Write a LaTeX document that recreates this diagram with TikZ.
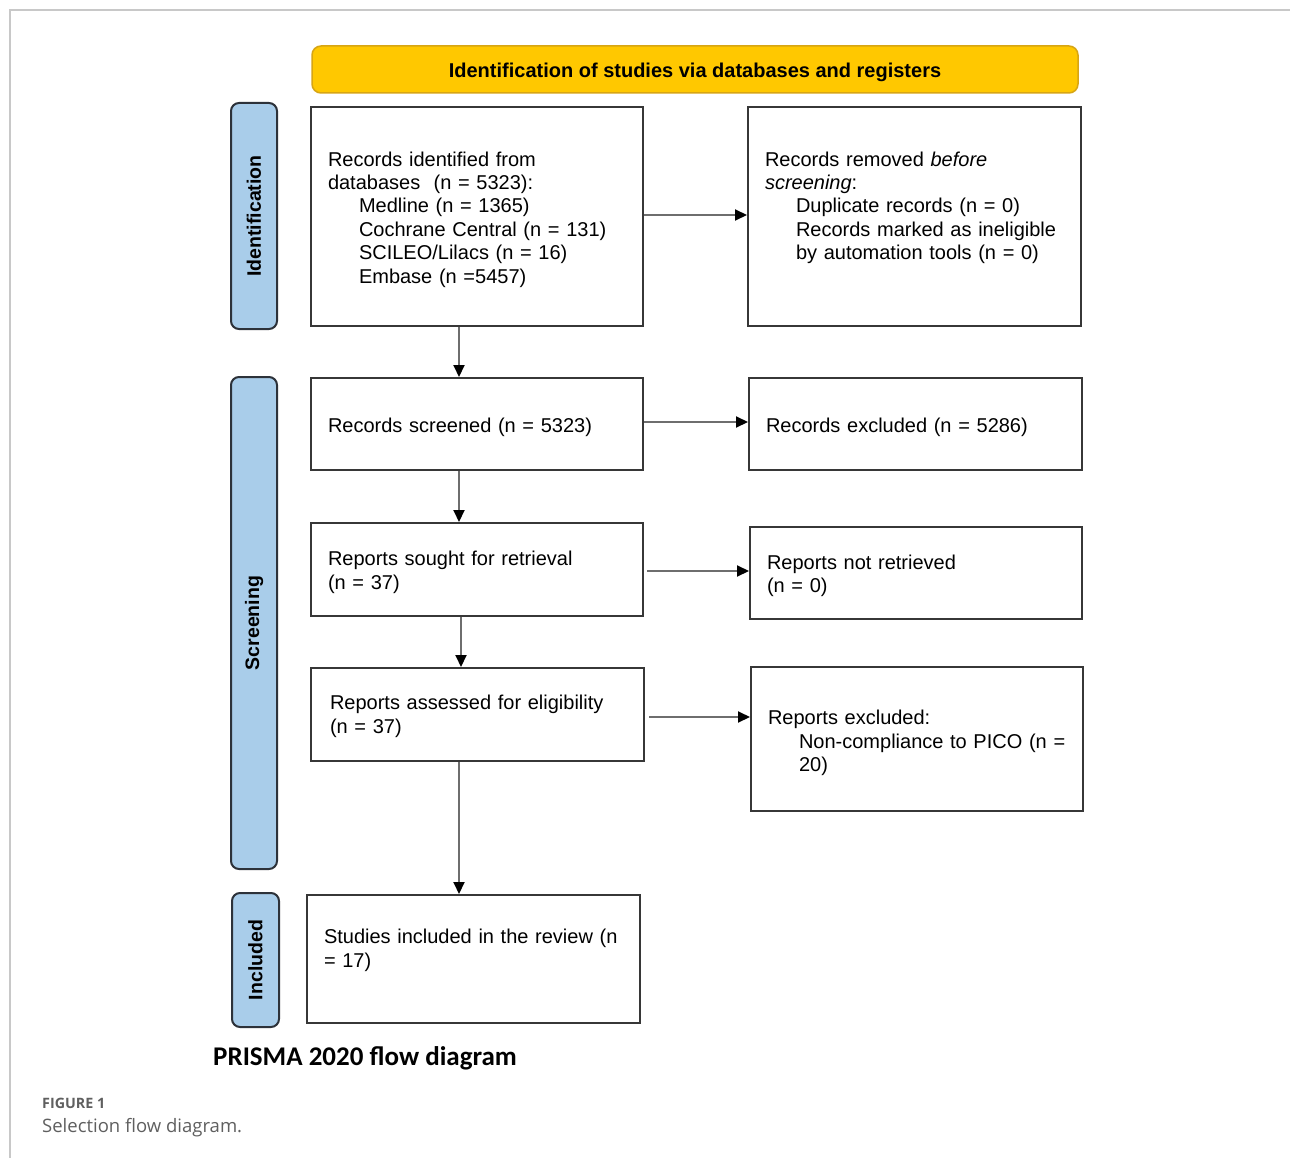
\documentclass[tikz,border=0pt]{standalone}
\usepackage{fontspec}
\setmainfont{Liberation Sans}
\newfontfamily\titlefont{Carlito}
\newfontfamily\capfont{Open Sans}
\usetikzlibrary{arrows.meta}
\definecolor{hdryellow}{RGB}{255,200,0}
\definecolor{hdrborder}{RGB}{215,165,20}
\definecolor{lblblue}{RGB}{169,205,234}
\definecolor{lblborder}{RGB}{45,50,58}
\definecolor{boxborder}{RGB}{55,55,55}
\definecolor{conngray}{RGB}{110,110,110}
\definecolor{framegray}{RGB}{200,200,200}
\definecolor{capgray}{RGB}{95,95,95}
\tikzset{
  flowbox/.style={draw=boxborder, line width=2pt, fill=white, rectangle, inner sep=0pt},
  boxtxt/.style={align=left, inner sep=0pt, font=\fontsize{20}{23.4}\selectfont},
  sidelbl/.style={draw=lblborder, line width=2pt, fill=lblblue, rectangle,
    rounded corners=8pt, inner sep=0pt, font=\bfseries\fontsize{19.5}{22}\selectfont},
  hdr/.style={draw=hdrborder, line width=1.5pt, fill=hdryellow, rectangle,
    rounded corners=9pt, inner sep=0pt, text height=20pt, text depth=4pt,
    font=\bfseries\fontsize{20}{24}\selectfont},
  conn/.style={draw=conngray, line width=2pt,
    -{Triangle[length=12pt,width=11pt,color=black]}},
}
\newcommand{\ind}{\hspace*{31pt}}
\begin{document}
\begin{tikzpicture}[x=1pt,y=-1pt]
\useasboundingbox (0,0) rectangle (1290,1158);
% frame
\draw[framegray, line width=1.5pt] (1290,10) -- (10,10) -- (10,1158);

% header
\node[hdr, minimum width=766pt, minimum height=47pt] (hdr) at (695,69.5)
  {Identification of studies via databases and registers};

% side labels
\node[sidelbl, minimum width=46pt, minimum height=226pt] (lid) at (254,216)
  {\rotatebox{90}{Identification}};
\node[sidelbl, minimum width=46pt, minimum height=492pt] (lsc) at (254,623)
  {\rotatebox{90}{Screening}};
\node[sidelbl, minimum width=47pt, minimum height=134pt] (lin) at (255.5,960)
  {\rotatebox{90}{Included}};

% boxes
\node[flowbox, minimum width=332pt, minimum height=219pt] (b1) at (477,216.5) {};
\node[flowbox, minimum width=333pt, minimum height=219pt] (b2) at (914.5,216.5) {};
\node[flowbox, minimum width=332pt, minimum height=92pt] (b3) at (477,424) {};
\node[flowbox, minimum width=333pt, minimum height=92pt] (b4) at (915.5,424) {};
\node[flowbox, minimum width=332pt, minimum height=93pt] (b5) at (477,569.5) {};
\node[flowbox, minimum width=332pt, minimum height=92pt] (b6) at (916,573) {};
\node[flowbox, minimum width=333pt, minimum height=93pt] (b7) at (477.5,714.5) {};
\node[flowbox, minimum width=332pt, minimum height=144pt] (b8) at (917,739) {};
\node[flowbox, minimum width=333pt, minimum height=128pt] (b9) at (473.5,959) {};

% box texts
\node[boxtxt, text width=298pt] (t1) at ([yshift=-3pt]b1.center)
  {\mbox{Records identified from}\\
   \mbox{databases\ \ (n = 5323):}\\
   \mbox{\ind Medline (n = 1365)}\\
   \mbox{\ind Cochrane Central (n = 131)}\\
   \mbox{\ind SCILEO/Lilacs (n = 16)}\\
   \mbox{\ind Embase (n =5457)}};
\node[boxtxt, text width=299pt] (t2) at ([yshift=8.7pt]b2.center)
  {\mbox{Records removed \emph{before}}\\
   \mbox{\emph{screening}:}\\
   \mbox{\ind Duplicate records (n = 0)}\\
   \mbox{\ind Records marked as ineligible}\\
   \mbox{\ind by automation tools (n = 0)}};
\node[boxtxt, text width=298pt] (t3) at ([yshift=-3pt]b3.center)
  {\mbox{Records screened (n = 5323)}};
\node[boxtxt, text width=299pt] (t4) at ([yshift=-3pt]b4.center)
  {\mbox{Records excluded (n = 5286)}};
\node[boxtxt, text width=298pt] (t5) at ([yshift=-3pt]b5.center)
  {\mbox{Reports sought for retrieval}\\
   \mbox{(n = 37)}};
\node[boxtxt, text width=298pt] (t6) at ([yshift=-3pt]b6.center)
  {\mbox{Reports not retrieved}\\
   \mbox{(n = 0)}};
\node[boxtxt, text width=295pt] (t7) at ([yshift=-2pt]b7.center)
  {\mbox{Reports assessed for eligibility}\\
   \mbox{(n = 37)}};
\node[boxtxt, text width=298pt] (t8) at ([yshift=-4pt]b8.center)
  {\mbox{Reports excluded:}\\
   \mbox{\ind Non-compliance to PICO (n =}\\
   \mbox{\ind 20)}};
\node[boxtxt, text width=299pt] (t9) at ([yshift=8.7pt]b9.center)
  {\mbox{Studies included in the review (n}\\
   \mbox{= 17)}};

% connectors
\coordinate (vx) at (459,0);
\coordinate (vx2) at (461,0);
\draw[conn] (b1.east |- 0,215) -- (b2.west |- 0,215);
\draw[conn] (b3.east |- 0,422) -- (b4.west |- 0,422);
\draw[conn] ([xshift=3pt]b5.east |- 0,571) -- (b6.west |- 0,571);
\draw[conn] ([xshift=4pt]b7.east |- 0,717) -- (b8.west |- 0,717);
\draw[conn] (b1.south -| vx) -- (b3.north -| vx);
\draw[conn] (b3.south -| vx) -- (b5.north -| vx);
\draw[conn] (b5.south -| vx2) -- (b7.north -| vx2);
\draw[conn] (b7.south -| vx) -- (b9.north -| vx);

% title and caption
\node[anchor=west, inner sep=0pt, font=\titlefont\bfseries\fontsize{27}{30}\selectfont] (ttl) at (213,1058) {PRISMA 2020 flow diagram};
\node[anchor=west, inner sep=0pt, text=capgray, font=\capfont\bfseries\fontsize{14.3}{17}\selectfont] (fig) at (42,1103) {FIGURE 1};
\node[anchor=west, inner sep=0pt, text=capgray, font=\capfont\fontsize{18.5}{22}\selectfont] (cap) at (42,1128) {Selection flow diagram.};
\end{tikzpicture}
\end{document}
